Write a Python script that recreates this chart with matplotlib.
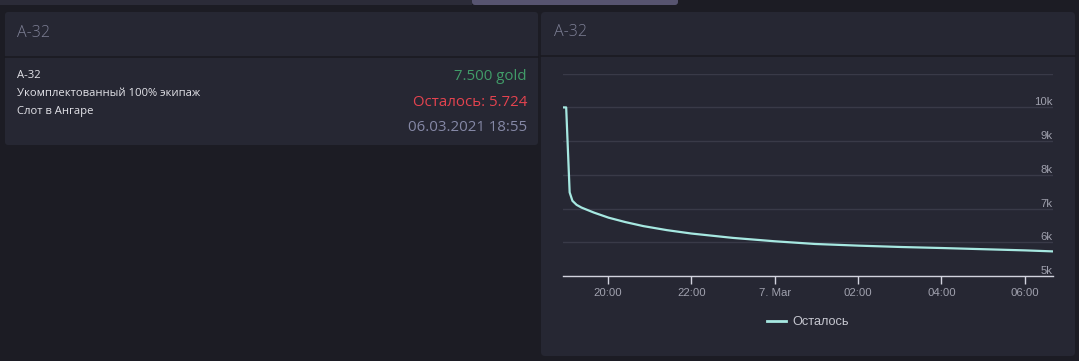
import matplotlib
matplotlib.use("Agg")
import matplotlib.pyplot as plt
import matplotlib.dates as mdates
from matplotlib.patches import FancyBboxPatch, Rectangle
from matplotlib.ticker import FixedLocator, FixedFormatter
import pandas as pd

# ---------------- data ----------------
times = ["2021-03-06 18:55", "2021-03-06 19:00", "2021-03-06 19:05", "2021-03-06 19:09",
         "2021-03-06 19:15", "2021-03-06 19:22", "2021-03-06 19:40", "2021-03-06 20:01",
         "2021-03-06 20:25", "2021-03-06 20:51", "2021-03-06 21:25", "2021-03-06 22:00",
         "2021-03-06 23:00", "2021-03-07 00:00", "2021-03-07 00:58", "2021-03-07 02:01",
         "2021-03-07 03:02", "2021-03-07 04:00", "2021-03-07 05:05", "2021-03-07 06:00",
         "2021-03-07 06:40"]
remaining = [10000, 10000, 7480, 7230, 7110, 7030, 6880, 6730, 6600, 6480, 6360, 6260,
             6130, 6030, 5950, 5900, 5860, 5830, 5792, 5760, 5730]

x_tick_times = ["2021-03-06 20:00", "2021-03-06 22:00", "2021-03-07 00:00",
                "2021-03-07 02:00", "2021-03-07 04:00", "2021-03-07 06:00"]
x_tick_labels = ["20:00", "22:00", "7. Mar", "02:00", "04:00", "06:00"]
y_ticks = [5000, 6000, 7000, 8000, 9000, 10000, 11000]
y_tick_labels = ["5k", "6k", "7k", "8k", "9k", "10k", ""]

series_name = "Осталось"
panel_title = "А-32"
item_lines = ["А-32", "Укомплектованный 100% экипаж", "Слот в Ангаре"]
price_text = "7.500 gold"
left_text = "Осталось: 5.724"
date_text = "06.03.2021 18:55"

# ---------------- style ----------------
W, H = 1079, 361
BG = "#1c1c24"
PANEL = "#262733"
SEP = "#1a1a21"
LINE = "#a6e8e1"
GRID = "#393a48"
AXIS = "#d2d3de"
TICKTXT = "#a0a1ae"
TITLE = "#7d7f95"
FONT = ["Open Sans", "DejaVu Sans"]
CFONT = ["Liberation Sans", "DejaVu Sans"]

fig = plt.figure(figsize=(W / 100, H / 100), dpi=100)
fig.patch.set_facecolor(BG)

# background canvas in pixel coordinates
bg = fig.add_axes([0, 0, 1, 1])
bg.set_xlim(0, W)
bg.set_ylim(H, 0)
bg.axis("off")
bg.set_zorder(0)

# top bar
bg.add_patch(Rectangle((0, 0), 472, 5, color="#2b2b38", lw=0))
bg.add_patch(FancyBboxPatch((472, -4), 206, 9, boxstyle="round,pad=0,rounding_size=3",
                            color="#575470", lw=0))

# left panel
bg.add_patch(FancyBboxPatch((5, 12), 533, 133, boxstyle="round,pad=0,rounding_size=3",
                            color=PANEL, lw=0))
bg.plot([5, 538], [56.5, 56.5], color=SEP, lw=1.2)
bg.text(17, 33, panel_title, color=TITLE, fontsize=11.5, va="center", ha="left",
        family=FONT, fontweight="light")
for i, t in enumerate(item_lines):
    bg.text(17, 75 + i * 18.2, t, color="#e2e2e8", fontsize=8.1, va="center", ha="left",
            family=FONT)
bg.text(527, 77, price_text, color="#419c69", fontsize=10.8, va="center", ha="right", family=FONT)
bg.text(527, 102, left_text, color="#e4434f", fontsize=10.8, va="center", ha="right", family=FONT)
bg.text(527, 127.5, date_text, color="#8588a6", fontsize=10.8, va="center", ha="right", family=FONT)

# right panel
bg.add_patch(FancyBboxPatch((541, 12), 534, 344, boxstyle="round,pad=0,rounding_size=4",
                            color=PANEL, lw=0))
bg.plot([541, 1075], [55.5, 55.5], color=SEP, lw=1.2)
bg.text(554, 32, panel_title, color=TITLE, fontsize=11.5, va="center", ha="left",
        family=FONT, fontweight="light")

# ---------------- chart ----------------
L, R, T, B = 562.7, 1052.7, 73.7, 276
ax = fig.add_axes([L / W, (H - B) / H, (R - L) / W, (B - T) / H])
ax.set_zorder(2)
ax.patch.set_alpha(0)

t = pd.to_datetime(times)
ax.plot(t, remaining, color=LINE, lw=1.6, solid_joinstyle="round", label=series_name, zorder=3)

ax.set_xlim(t[0], t[-1])
ax.set_ylim(5000, 11000)

ax.yaxis.set_major_locator(FixedLocator(y_ticks))
ax.yaxis.set_major_formatter(FixedFormatter(y_tick_labels))
ax.yaxis.tick_right()
ax.tick_params(axis="y", length=0, pad=0, labelsize=8.2, labelcolor=TICKTXT)
for lab in ax.get_yticklabels():
    lab.set_horizontalalignment("right")
    lab.set_verticalalignment("bottom")
    lab.set_family(CFONT)

xt = mdates.date2num(pd.to_datetime(x_tick_times))
ax.xaxis.set_major_locator(FixedLocator(xt))
ax.xaxis.set_major_formatter(FixedFormatter(x_tick_labels))
ax.tick_params(axis="x", length=5.8, width=1, color=AXIS, pad=2.5, labelsize=8.2,
               labelcolor=TICKTXT)
for lab in ax.get_xticklabels():
    lab.set_family(CFONT)

ax.grid(axis="y", color=GRID, lw=1)
ax.grid(axis="x", visible=False)
for s in ["top", "left", "right"]:
    ax.spines[s].set_visible(False)
ax.spines["bottom"].set_color(AXIS)
ax.spines["bottom"].set_linewidth(1)
ax.spines["bottom"].set_zorder(4)

leg = ax.legend(loc="center", bbox_to_anchor=(0.5, (H - 322 - (H - B)) / (B - T)),
                frameon=False, handlelength=1.5, handletextpad=0.45,
                prop={"family": CFONT, "size": 9.2})
for txt in leg.get_texts():
    txt.set_color("#c5c6cf")
for ln in leg.get_lines():
    ln.set_linewidth(2)

fig.savefig("out.png", dpi=100, facecolor=BG)
